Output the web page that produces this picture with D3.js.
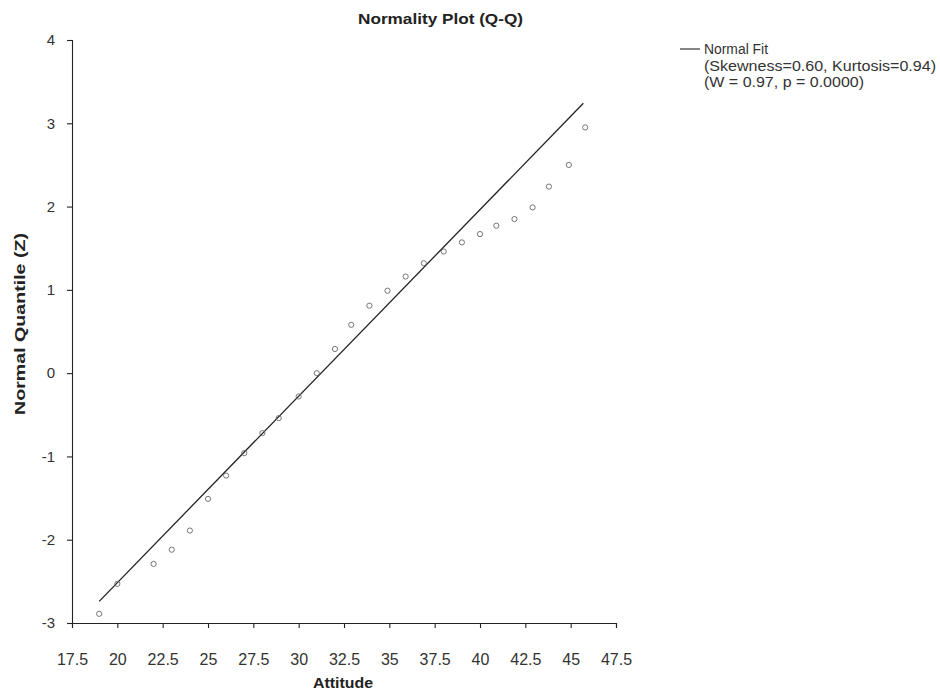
<!DOCTYPE html>
<html>
<head>
<meta charset="utf-8">
<script src="https://cdn.jsdelivr.net/npm/d3@7"></script>
<style>
  html, body { margin: 0; padding: 0; background: #fff; }
  svg { display: block; font-family: "Liberation Sans", Arial, sans-serif; }
</style>
</head>
<body>
<svg id="chart" width="940" height="691"></svg>
<script>
// ---- data ----
const attitude = [19.0, 20.0, 22.0, 23.0, 24.0, 25.0, 26.0, 27.0, 28.0, 28.9, 30.0, 31.0, 32.0, 32.9,
                  33.9, 34.9, 35.9, 36.9, 38.0, 39.0, 40.0, 40.9, 41.9, 42.9, 43.8, 44.9, 45.8];
const normalZ  = [-2.89, -2.53, -2.29, -2.12, -1.89, -1.51, -1.23, -0.96, -0.72, -0.54, -0.28, 0.00, 0.29, 0.58,
                  0.81, 0.99, 1.16, 1.32, 1.46, 1.57, 1.67, 1.77, 1.85, 1.99, 2.24, 2.50, 2.95];
const fitX = [19.0, 45.7];
const fitZ = [-2.74, 3.24];
const xTicks = [17.5, 20, 22.5, 25, 27.5, 30, 32.5, 35, 37.5, 40, 42.5, 45, 47.5];
const yTicks = [-3, -2, -1, 0, 1, 2, 3, 4];
const titleText = "Normality Plot (Q-Q)";
const xLabel = "Attitude";
const yLabel = "Normal Quantile (Z)";
const legendLines = ["Normal Fit", "(Skewness=0.60, Kurtosis=0.94)", "(W = 0.97, p = 0.0000)"];

// ---- chart ----
const svg = d3.select("#chart");
const x = d3.scaleLinear().domain([17.5, 47.5]).range([72, 616]);
const y = d3.scaleLinear().domain([-3, 4]).range([623, 40]);
const axisColor = "#222";

// x axis
const gx = svg.append("g").attr("transform", `translate(0,${y(-3)})`)
  .call(d3.axisBottom(x).tickValues(xTicks).tickSize(5).tickSizeOuter(5).tickPadding(26)
        .tickFormat(d => String(d)));
gx.selectAll("path, line").attr("stroke", axisColor).attr("stroke-width", 1.1);
gx.selectAll("text").attr("font-size", 16).attr("fill", "#333")
  .attr("font-family", "'Liberation Sans', Arial, sans-serif");

// y axis
const gy = svg.append("g").attr("transform", `translate(${x(17.5)},0)`)
  .call(d3.axisLeft(y).tickValues(yTicks).tickSize(5).tickSizeOuter(5).tickPadding(12)
        .tickFormat(d => String(d)));
gy.selectAll("path, line").attr("stroke", axisColor).attr("stroke-width", 1.1);
gy.selectAll("text").attr("font-size", 15).attr("fill", "#333")
  .attr("font-family", "'Liberation Sans', Arial, sans-serif");

// fit line
const line = d3.line().x(d => x(d[0])).y(d => y(d[1]));
svg.append("path")
  .datum(fitX.map((v, i) => [v, fitZ[i]]))
  .attr("d", line)
  .attr("fill", "none")
  .attr("stroke", "#222")
  .attr("stroke-width", 1.3);

// points
svg.append("g").selectAll("circle")
  .data(attitude.map((v, i) => [v, normalZ[i]]))
  .join("circle")
  .attr("cx", d => x(d[0]))
  .attr("cy", d => y(d[1]))
  .attr("r", 2.6)
  .attr("fill", "none")
  .attr("stroke", "#666")
  .attr("stroke-width", 0.9);

// title
svg.append("text")
  .attr("x", 440.5).attr("y", 24)
  .attr("text-anchor", "middle")
  .attr("font-size", 15).attr("font-weight", "bold").attr("fill", "#222")
  .attr("textLength", 165).attr("lengthAdjust", "spacingAndGlyphs")
  .text(titleText);

// x label
svg.append("text")
  .attr("x", 343).attr("y", 688)
  .attr("text-anchor", "middle")
  .attr("font-size", 15).attr("font-weight", "bold").attr("fill", "#222")
  .attr("textLength", 60).attr("lengthAdjust", "spacingAndGlyphs")
  .text(xLabel);

// y label
svg.append("text")
  .attr("transform", "translate(25,324) rotate(-90)")
  .attr("text-anchor", "middle")
  .attr("font-size", 15).attr("font-weight", "bold").attr("fill", "#222")
  .attr("textLength", 182).attr("lengthAdjust", "spacingAndGlyphs")
  .text(yLabel);

// legend
const lg = svg.append("g");
lg.append("line")
  .attr("x1", 680).attr("x2", 700).attr("y1", 49).attr("y2", 49)
  .attr("stroke", "#222").attr("stroke-width", 1.1);
const legendWidths = [64, 232, 160];
legendLines.forEach((t, i) => {
  lg.append("text")
    .attr("x", 704).attr("y", 54 + i * 16.5)
    .attr("font-size", 14).attr("fill", "#333")
    .attr("textLength", legendWidths[i]).attr("lengthAdjust", "spacingAndGlyphs")
    .text(t);
});
</script>
</body>
</html>
